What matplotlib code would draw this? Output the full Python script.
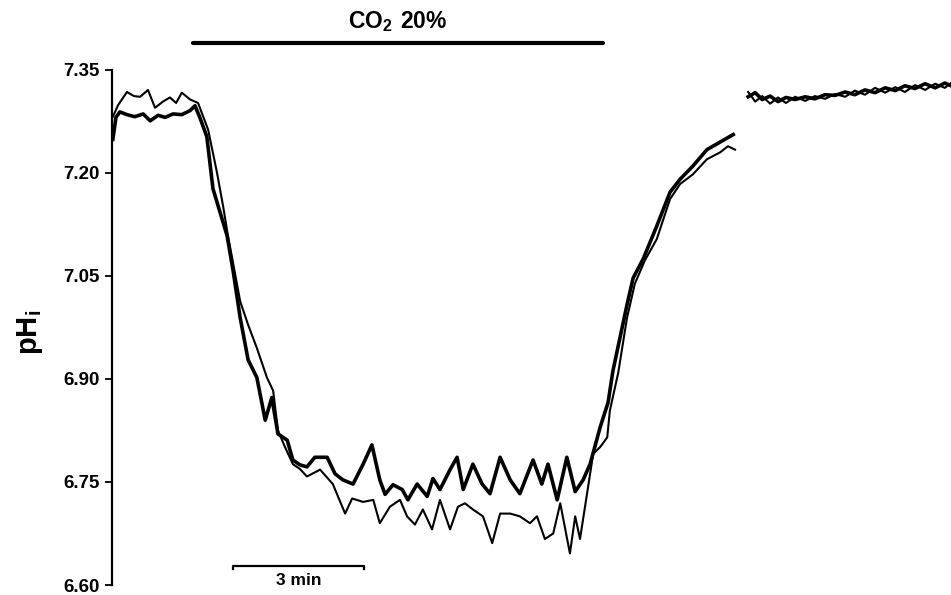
import matplotlib
matplotlib.use("Agg")
import matplotlib.pyplot as plt

plt.rcParams['font.family'] = ['Liberation Sans', 'DejaVu Sans']
plt.rcParams['font.weight'] = 'bold'
plt.rcParams['mathtext.fontset'] = 'custom'
plt.rcParams['mathtext.rm'] = 'Liberation Sans'
plt.rcParams['mathtext.bf'] = 'Liberation Sans:bold'

# Trace 1 (thick line), time in min, pHi
t_thick = [0.02, 0.09, 0.18, 0.34, 0.52, 0.71, 0.87, 1.05, 1.21, 1.39, 1.59, 1.78, 1.89,
           2.00, 2.16, 2.30, 2.46, 2.62, 2.76, 2.92, 3.10, 3.30, 3.49, 3.64, 3.78, 3.99,
           4.12, 4.28, 4.44, 4.62, 4.90, 5.08, 5.26, 5.49, 5.72, 5.92, 6.10, 6.22, 6.40,
           6.61, 6.74, 6.95, 7.18, 7.31, 7.47, 7.70, 7.86, 8.00, 8.22, 8.43, 8.61, 8.84,
           9.07, 9.29, 9.59, 9.79, 9.93, 10.14, 10.36, 10.55, 10.73, 10.89, 11.12, 11.30,
           11.41, 11.57, 11.73, 11.87, 12.10, 12.41, 12.71, 12.94, 13.23, 13.55, 13.85, 14.15]
ph_thick = [7.249, 7.281, 7.289, 7.285, 7.282, 7.286, 7.276, 7.284, 7.281, 7.286, 7.285, 7.291, 7.298,
            7.281, 7.253, 7.177, 7.143, 7.109, 7.057, 6.989, 6.928, 6.902, 6.840, 6.873, 6.820, 6.811,
            6.782, 6.775, 6.772, 6.786, 6.786, 6.762, 6.753, 6.747, 6.776, 6.804, 6.753, 6.732, 6.746,
            6.739, 6.724, 6.747, 6.729, 6.755, 6.739, 6.768, 6.786, 6.739, 6.776, 6.747, 6.733, 6.786,
            6.753, 6.733, 6.782, 6.747, 6.776, 6.724, 6.786, 6.736, 6.753, 6.776, 6.830, 6.866,
            6.912, 6.960, 7.008, 7.047, 7.075, 7.123, 7.172, 7.191, 7.210, 7.234, 7.245, 7.256]

# Trace 2 (thin line)
t_thin = [0.02, 0.14, 0.34, 0.50, 0.64, 0.75, 0.82, 0.98, 1.16, 1.32, 1.46, 1.59, 1.78, 1.96,
          2.19, 2.39, 2.53, 2.64, 2.76, 2.92, 3.10, 3.30, 3.53, 3.67, 3.78, 3.94, 4.12, 4.28,
          4.44, 4.74, 5.03, 5.31, 5.47, 5.72, 5.95, 6.10, 6.33, 6.56, 6.72, 6.90, 7.08, 7.29,
          7.47, 7.70, 7.88, 8.04, 8.22, 8.45, 8.66, 8.84, 9.07, 9.29, 9.52, 9.68, 9.86, 10.05,
          10.21, 10.43, 10.55, 10.66, 10.82, 10.96, 11.12, 11.28, 11.34, 11.53, 11.73, 11.91,
          12.14, 12.41, 12.71, 12.94, 13.23, 13.55, 13.85, 14.03, 14.19]
ph_thin = [7.282, 7.299, 7.318, 7.312, 7.311, 7.317, 7.321, 7.295, 7.304, 7.310, 7.302, 7.317, 7.307, 7.302,
           7.263, 7.201, 7.152, 7.109, 7.068, 7.013, 6.979, 6.945, 6.902, 6.883, 6.825, 6.801, 6.776, 6.769,
           6.758, 6.768, 6.747, 6.704, 6.726, 6.721, 6.724, 6.690, 6.714, 6.724, 6.700, 6.688, 6.710, 6.681,
           6.724, 6.681, 6.714, 6.719, 6.710, 6.700, 6.661, 6.704, 6.704, 6.700, 6.690, 6.700, 6.667, 6.675,
           6.719, 6.646, 6.700, 6.667, 6.733, 6.791, 6.801, 6.815, 6.854, 6.909, 6.989, 7.039,
           7.073, 7.104, 7.162, 7.184, 7.198, 7.220, 7.230, 7.239, 7.234]

# Recovery after the break
t_rec = [14.49, 14.65, 14.81, 14.99, 15.17, 15.35, 15.56, 15.79, 16.01, 16.24, 16.47, 16.70,
         16.92, 17.15, 17.38, 17.61, 17.84, 18.06, 18.29, 18.52, 18.75, 18.97, 19.11]
ph_rec_thick = [7.311, 7.317, 7.307, 7.312, 7.304, 7.310, 7.307, 7.311, 7.308, 7.314, 7.313, 7.318,
                7.314, 7.321, 7.317, 7.324, 7.320, 7.327, 7.323, 7.330, 7.324, 7.331, 7.327]
ph_rec_thin = [7.318, 7.304, 7.312, 7.301, 7.310, 7.302, 7.311, 7.305, 7.312, 7.308, 7.315, 7.311,
               7.320, 7.314, 7.324, 7.317, 7.325, 7.318, 7.328, 7.321, 7.330, 7.324, 7.331]

co2_period = [1.85, 11.18]
scale_bar = [2.76, 5.74]
yticks = [6.60, 6.75, 6.90, 7.05, 7.20, 7.35]

fig = plt.figure(figsize=(9.51, 5.95), dpi=100)
ax = fig.add_axes([112 / 951, 10 / 595, 1 - 112 / 951, 515 / 595])

ax.plot(t_thick, ph_thick, color='black', lw=2.6, solid_joinstyle='round')
ax.plot(t_thin, ph_thin, color='black', lw=1.5, solid_joinstyle='round')
ax.plot(t_rec, ph_rec_thick, color='black', lw=2.6, solid_joinstyle='round')
ax.plot(t_rec, ph_rec_thin, color='black', lw=1.5, solid_joinstyle='round')

ax.set_xlim(0, 19.11)
ax.set_ylim(6.60, 7.35)
ax.set_yticks(yticks)
ax.set_yticklabels([f"{v:.2f}" for v in yticks])
ax.set_xticks([])
for s in ['top', 'right', 'bottom']:
    ax.spines[s].set_visible(False)
ax.spines['left'].set_linewidth(1.6)
ax.tick_params(axis='y', length=5, width=1.3, pad=4, labelsize=13.5)

# CO2 bar above the plot
ax.plot(co2_period, [7.389, 7.389], color='black', lw=3, clip_on=False,
        solid_capstyle='round')
ax.text(sum(co2_period) / 2, 7.402, r'$\mathbf{CO_2\ 20\%}$', ha='center', va='bottom',
        fontsize=16.5, clip_on=False)

# 3 min scale bar
ax.plot([scale_bar[0], scale_bar[0], scale_bar[1], scale_bar[1]],
        [6.623, 6.628, 6.628, 6.623], color='black', lw=1.6, clip_on=False)
ax.text(sum(scale_bar) / 2, 6.618, '3 min', ha='center', va='top', fontsize=12.5,
        fontweight='bold', clip_on=False)

fig.text(30 / 951, 1 - 332 / 595, r'$\mathbf{pH_i}$', rotation=90, ha='center',
         va='center', fontsize=21)

fig.savefig('out.png', dpi=100)
